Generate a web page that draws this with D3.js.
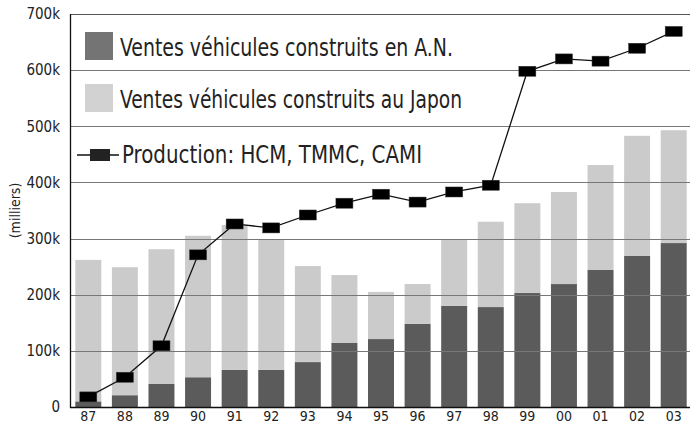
<!DOCTYPE html>
<html>
<head>
<meta charset="utf-8">
<script src="https://cdn.jsdelivr.net/npm/d3@7"></script>
<style>
  body { margin: 0; background: #fff; }
  svg { display: block; }
  text { font-family: "Liberation Sans Narrow", "DejaVu Sans Condensed", "Liberation Sans", sans-serif; fill: #222; }
</style>
</head>
<body>
<div id="chart"></div>
<script>
// annees
var years = ["87","88","89","90","91","92","93","94","95","96","97","98","99","00","01","02","03"];
// ventes vehicules construits en Amerique du Nord (milliers)
var ventesAN = [10,21,41,53,66,66,80,114,121,148,180,178,203,219,244,269,292];
// ventes vehicules construits au Japon (milliers)
var ventesJapon = [252,228,240,252,258,233,171,121,84,71,119,152,160,164,187,214,201];
// production HCM, TMMC, CAMI (milliers)
var production = [18,53,109,271,326,319,342,363,379,365,383,395,598,620,616,639,669];
var yTicks = [0,100,200,300,400,500,600,700];

var legendLabels = ["Ventes véhicules construits en A.N.",
                    "Ventes véhicules construits au Japon",
                    "Production: HCM, TMMC, CAMI"];

var width = 690, height = 426;
var plotLeft = 70, plotRight = 692, plotTop = 14, plotBottom = 407;

var svg = d3.select("#chart").append("svg")
            .attr("width", width)
            .attr("height", height);

var x = d3.scaleBand().domain(years).range([plotLeft, plotRight]).paddingInner(0.29).paddingOuter(0.145);
var y = d3.scaleLinear().domain([0, 700]).range([plotBottom, plotTop]);

// barres empilees
var data = years.map(function(yr, i){
	return {year: yr, an: ventesAN[i], jp: ventesJapon[i]};
});
var stack = d3.stack().keys(["an","jp"])(data);
var colors = {an: "#5b5b5b", jp: "#cbcbcb"};

svg.append("g").selectAll("g")
   .data(stack)
   .enter().append("g")
   .attr("fill", function(s){ return colors[s.key]; })
   .selectAll("rect")
   .data(function(s){ return s; })
   .enter().append("rect")
   .attr("x", function(d){ return x(d.data.year); })
   .attr("width", x.bandwidth())
   .attr("y", function(d){ return y(d[1]); })
   .attr("height", function(d){ return y(d[0]) - y(d[1]); });

// grille
svg.append("g").selectAll("line")
   .data(yTicks.filter(function(t){ return t > 0; }))
   .enter().append("line")
   .attr("x1", plotLeft).attr("x2", width)
   .attr("y1", function(t){ return Math.round(y(t)) + 0.5; })
   .attr("y2", function(t){ return Math.round(y(t)) + 0.5; })
   .attr("stroke", function(t){ return t == 700 ? "#555" : "#777"; })
   .attr("stroke-width", 1);

// axes
svg.append("line").attr("x1", plotLeft + 0.5).attr("x2", plotLeft + 0.5)
   .attr("y1", plotTop).attr("y2", plotBottom + 1)
   .attr("stroke", "#111").attr("stroke-width", 1.3);
svg.append("line").attr("x1", plotLeft).attr("x2", width)
   .attr("y1", plotBottom + 0.5).attr("y2", plotBottom + 0.5)
   .attr("stroke", "#111").attr("stroke-width", 1.3);

var yAxis = svg.append("g")
   .attr("transform", "translate(" + (plotLeft - 7) + ",0)")
   .call(d3.axisLeft(y).tickValues(yTicks).tickSize(0)
          .tickFormat(function(t){ return t == 0 ? "0" : t + "k"; }));
yAxis.select(".domain").remove();
yAxis.selectAll("text").attr("font-size", 15).attr("fill", "#222")
     .attr("font-family", "Liberation Sans Narrow, DejaVu Sans Condensed, sans-serif");

var xAxis = svg.append("g")
   .attr("transform", "translate(0," + (plotBottom + 1) + ")")
   .call(d3.axisBottom(x).tickSize(0));
xAxis.select(".domain").remove();
xAxis.selectAll("text").attr("font-size", 14).attr("fill", "#222")
     .attr("font-family", "Liberation Sans Narrow, DejaVu Sans Condensed, sans-serif");

svg.append("text")
   .attr("transform", "translate(20," + ((plotTop + plotBottom) / 2) + ") rotate(-90)")
   .attr("text-anchor", "middle")
   .attr("font-size", 14)
   .text("(milliers)");

// ligne production
var line = d3.line()
   .x(function(d, i){ return x(years[i]) + x.bandwidth() / 2; })
   .y(function(d){ return y(d); });

svg.append("path")
   .datum(production)
   .attr("d", line)
   .attr("fill", "none")
   .attr("stroke", "#111")
   .attr("stroke-width", 1.3);

svg.append("g").selectAll("rect")
   .data(production)
   .enter().append("rect")
   .attr("x", function(d, i){ return x(years[i]) + x.bandwidth() / 2 - 8.5; })
   .attr("y", function(d){ return y(d) - 5; })
   .attr("width", 17)
   .attr("height", 10)
   .attr("fill", "#000")
   .attr("stroke", "#333")
   .attr("stroke-width", 0.5);

// legende
var legend = svg.append("g");
legend.append("rect").attr("x", 85).attr("y", 32).attr("width", 28).attr("height", 28).attr("fill", "#747474");
legend.append("rect").attr("x", 85).attr("y", 84).attr("width", 28).attr("height", 28).attr("fill", "#d2d2d2");
legend.append("line").attr("x1", 77).attr("x2", 119).attr("y1", 155).attr("y2", 155)
      .attr("stroke", "#111").attr("stroke-width", 1.5);
legend.append("rect").attr("x", 90).attr("y", 149).attr("width", 20).attr("height", 12).attr("fill", "#222");

var legendX = [120, 120, 122];
var legendY = [56, 108, 163];
var legendW = [333, 342, 300];
legend.selectAll("text")
   .data(legendLabels)
   .enter().append("text")
   .attr("x", function(d, i){ return legendX[i]; })
   .attr("y", function(d, i){ return legendY[i]; })
   .attr("font-size", 24)
   .attr("textLength", function(d, i){ return legendW[i]; })
   .attr("lengthAdjust", "spacingAndGlyphs")
   .text(function(d){ return d; });
</script>
</body>
</html>
